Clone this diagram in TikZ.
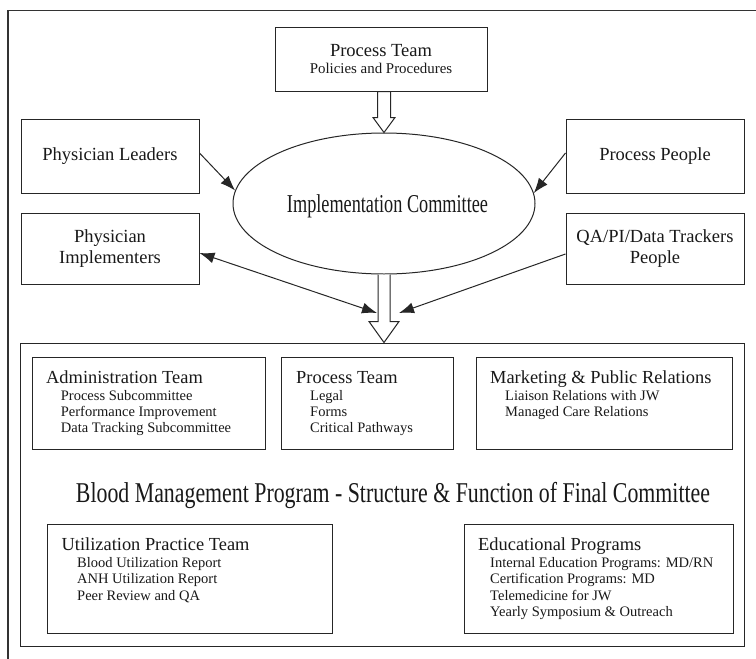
\documentclass[tikz,border=0pt]{standalone}
\usepackage{graphicx}
\usepackage{fontspec}
\setmainfont{Liberation Serif}
\usetikzlibrary{calc,arrows.meta,shapes.geometric}
\begin{document}
\begin{tikzpicture}[x=1pt,y=-1pt,
  ln/.style={draw=black!85, line width=1pt},
  box/.style={ln, rectangle, inner sep=0pt},
  lbl/.style={font=\fontsize{18.5}{21}\selectfont, align=center, text=black!90},
  hdr/.style={anchor=base west, inner sep=0pt, font=\fontsize{18.4}{20}\selectfont, text=black!90},
  itm/.style={anchor=base west, inner sep=0pt, font=\fontsize{14.5}{16}\selectfont, text=black!90},
  arr/.style={draw=black!85, line width=1pt, -{Latex[length=15pt,width=11pt]}},
  dblarr/.style={draw=black!85, line width=1pt, {Latex[length=15pt,width=11pt]}-{Latex[length=15pt,width=11pt]}},
  hollow/.style={draw=black!85, line width=1pt, fill=white, line join=miter}
]
\useasboundingbox (0,0) rectangle (756,659);
\fill[white] (0,0) rectangle (756,659);
% outer frame (cropped at right and bottom)
\draw[line width=1.2pt, draw=black!80] (8,659) -- (8,10.5) -- (756,10.5);

% top box
\node[box, minimum width=212pt, minimum height=64pt] (ptop) at (381,59) {};
\node[anchor=base, inner sep=0pt, text=black!90, font=\fontsize{18.5}{20}\selectfont] (ptt1) at ($(ptop.center)+(0,-3)$) {Process Team};
\node[anchor=base, inner sep=0pt, text=black!90, font=\fontsize{14.9}{17}\selectfont] (ptt2) at ($(ptop.center)+(0,14)$) {Policies and Procedures};

% side boxes
\node[box, lbl, minimum width=178pt, minimum height=74pt] (pl) at (110,156) {Physician Leaders};
\node[box, lbl, minimum width=178pt, minimum height=74pt] (pp) at (655,156) {Process People};
\node[box, lbl, minimum width=178pt, minimum height=71pt] (pi) at (110,248.5) {Physician\\Implementers};
\node[box, lbl, minimum width=178pt, minimum height=71pt] (qa) at (655,248.5) {QA/PI/Data Trackers\\People};

% ellipse
\node[ellipse, ln, minimum width=302pt, minimum height=141pt, inner sep=0pt] (ic) at (384,203.5) {};
\node[inner sep=0pt, anchor=base, text=black!90] (ict) at (387.5,212) {\resizebox{201pt}{\height}{\fontsize{25.7}{27}\selectfont Implementation Committee}};

% big box
\node[box, minimum width=724pt, minimum height=303pt] (big) at (382,494.5) {};

% hollow arrow top
\coordinate (t1) at (ptop.south -| ic.north);
\draw[hollow] ($(t1)+(-6.5,0)$) -- ($(ic.north)+(-6.5,-15)$) -- ($(ic.north)+(-11,-15)$) -- (ic.north)
  -- ($(ic.north)+(11,-15)$) -- ($(ic.north)+(6.5,-15)$) -- ($(t1)+(6.5,0)$) -- cycle;
% hollow arrow bottom
\coordinate (t2) at (big.north -| ic.south);
\draw[hollow] ($(ic.south)+(-6,0)$) -- ($(t2)+(-6,-21)$) -- ($(t2)+(-15,-21)$) -- (t2)
  -- ($(t2)+(15,-21)$) -- ($(t2)+(6,-21)$) -- ($(ic.south)+(6,0)$);

% black arrows
\draw[arr] ($(pl.east)+(0,-3)$) -- (ic.175.6);
\draw[arr] ($(pp.west)+(0,-3)$) -- (ic.4.4);
\coordinate (c1) at (377,313);
\coordinate (c2) at (399,313);
\draw[dblarr] ($(pi.east)+(0,4.5)$) -- (c1);
\draw[arr] ($(qa.west)+(0,5.5)$) -- (c2);

% inner boxes row 1
\node[box, minimum width=233pt, minimum height=92pt] (adm) at (148.5,403) {};
\node[box, minimum width=172pt, minimum height=92pt] (prt) at (367,403) {};
\node[box, minimum width=256pt, minimum height=92pt] (mkt) at (604,403) {};

\node[hdr] (admh) at (46,383) {Administration Team};
\node[itm] (adm1) at (60.7,400.7) {Process Subcommittee};
\node[itm] (adm2) at (60.7,416.7) {Performance Improvement};
\node[itm] (adm3) at (60.7,432.7) {Data Tracking Subcommittee};

\node[hdr] (prth) at (296,383) {Process Team};
\node[itm] (prt1) at (310,400.7) {Legal};
\node[itm] (prt2) at (310,416.7) {Forms};
\node[itm] (prt3) at (310,432.7) {Critical Pathways};

\node[hdr] (mkth) at (490,383) {Marketing \& Public Relations};
\node[itm] (mkt1) at (505,400.7) {Liaison Relations with JW};
\node[itm] (mkt2) at (505,416.7) {Managed Care Relations};

% title
\node[inner sep=0pt, anchor=base, text=black!90] (title) at (393,502) {\resizebox{634pt}{\height}{\fontsize{28.7}{30}\selectfont Blood Management Program - Structure \& Function of Final Committee}};

% inner boxes row 2
\node[box, minimum width=285pt, minimum height=109pt] (util) at (189.5,578.5) {};
\node[box, minimum width=269pt, minimum height=109pt] (edu) at (598.5,578.5) {};

\node[hdr] (utilh) at (61.5,550.5) {Utilization Practice Team};
\node[itm] (util1) at (77,567) {Blood Utilization Report};
\node[itm] (util2) at (77,583.5) {ANH Utilization Report};
\node[itm] (util3) at (77,600) {Peer Review and QA};

\node[hdr] (eduh) at (478,550.5) {Educational Programs};
\node[itm] (edu1) at (490,567) {Internal Education Programs: MD/RN};
\node[itm] (edu2) at (490,583.5) {Certification Programs: MD};
\node[itm] (edu3) at (490,600) {Telemedicine for JW};
\node[itm] (edu4) at (490,616.5) {Yearly Symposium \& Outreach};
\end{tikzpicture}
\end{document}
